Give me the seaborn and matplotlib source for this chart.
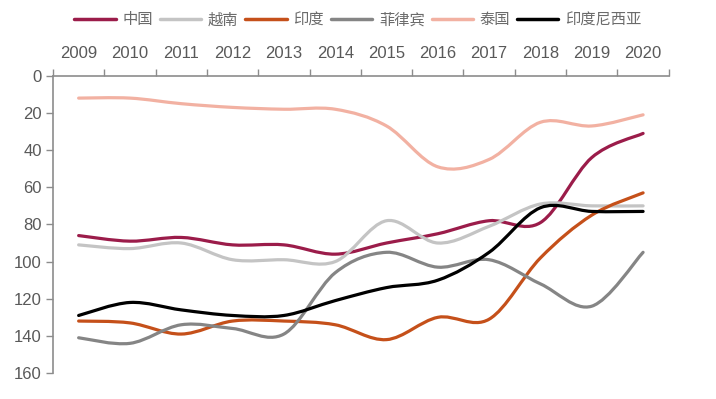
import numpy as np
import pandas as pd
import matplotlib
matplotlib.use('Agg')
import matplotlib.pyplot as plt
import seaborn as sns
from matplotlib.path import Path
from matplotlib.patches import PathPatch
from matplotlib.lines import Line2D

years = ['2009', '2010', '2011', '2012', '2013', '2014',
         '2015', '2016', '2017', '2018', '2019', '2020']
countries = ['中国', '越南', '印度', '菲律宾', '泰国', '印度尼西亚']
china = [86, 89, 87, 91, 91, 96, 90, 85, 78, 79, 44, 31]
vietnam = [91, 93, 90, 99, 99, 100, 78, 90, 81, 69, 70, 70]
india = [132, 133, 139, 132, 132, 134, 142, 130, 131, 98, 75, 63]
philippines = [141, 144, 134, 136, 139, 106, 95, 103, 99, 112, 124, 95]
thailand = [12, 12, 15, 17, 18, 18, 27, 49, 45, 25, 27, 21]
indonesia = [129, 122, 126, 129, 129, 121, 114, 110, 95, 71, 73, 73]
colors = ['#9b1c4a', '#c4c4c4', '#c5501a', '#858585', '#f2b1a2', '#000000']

series = [china, vietnam, india, philippines, thailand, indonesia]
df = pd.DataFrame({
    'pos': np.tile(np.arange(len(years)), len(countries)),
    'rank': np.concatenate(series),
    'country': np.repeat(countries, len(years)),
})


def smooth_path(x, y):
    # bezier through the points, like the "smoothed line" option in excel
    pts = np.column_stack([x, y]).astype(float)
    n = len(pts)
    verts = [pts[0]]
    codes = [Path.MOVETO]
    for i in range(n - 1):
        p0 = pts[max(i - 1, 0)]
        p1 = pts[i]
        p2 = pts[i + 1]
        p3 = pts[min(i + 2, n - 1)]
        c1 = p1 + (p2 - p0) / 6
        c2 = p2 - (p3 - p1) / 6
        verts += [c1, c2, p2]
        codes += [Path.CURVE4] * 3
    return Path(verts, codes)


sns.set_style('white')
plt.rcParams['font.family'] = ['Liberation Sans', 'Noto Sans CJK SC', 'DejaVu Sans']

fig = plt.figure(figsize=(7.16, 3.99), dpi=100)
ax = fig.add_axes([0.074, 0.065, 0.860, 0.745])

sns.lineplot(data=df, x='pos', y='rank', hue='country', hue_order=countries,
             palette=colors, linewidth=2.3, legend=False, ax=ax)

# swap the straight polylines for smooth curves
for line in list(ax.lines):
    lx, ly = line.get_data()
    patch = PathPatch(smooth_path(lx, ly), fill=False, edgecolor=line.get_color(),
                      linewidth=2.3, capstyle='round', joinstyle='round')
    ax.add_patch(patch)
    line.remove()

ax.set_xlim(-0.5, 11.5)
ax.set_ylim(160, 0)
ax.set_xlabel('')
ax.set_ylabel('')

ax.xaxis.tick_top()
ax.set_xticks(range(len(years)))
ax.set_xticklabels(years)
ax.set_xticks(np.arange(-0.5, 12, 1), minor=True)
ax.tick_params(axis='x', which='major', length=0, pad=11, labelsize=12, labelcolor='#595959')
ax.tick_params(axis='x', which='minor', length=5, width=1, color='#8c8c8c', direction='out', top=True)
ax.set_yticks(range(0, 161, 20))
ax.tick_params(axis='y', length=5, width=1, color='#8c8c8c', direction='out', left=True,
               pad=3, labelsize=12, labelcolor='#595959')

for s in ['right', 'bottom']:
    ax.spines[s].set_visible(False)
for s in ['left', 'top']:
    ax.spines[s].set_color('#8c8c8c')
    ax.spines[s].set_linewidth(1.2)

handles = [Line2D([0], [0], color=c, lw=2.5) for c in colors]
leg = fig.legend(handles, countries, loc='center', bbox_to_anchor=(0.5, 0.95), ncol=6,
                 frameon=False, handlelength=2.7, handletextpad=0.45, columnspacing=0.45,
                 prop={'family': ['Noto Sans CJK SC', 'DejaVu Sans'], 'size': 11})
for t in leg.get_texts():
    t.set_color('#6b6b6b')

fig.savefig('out.png', dpi=100)
